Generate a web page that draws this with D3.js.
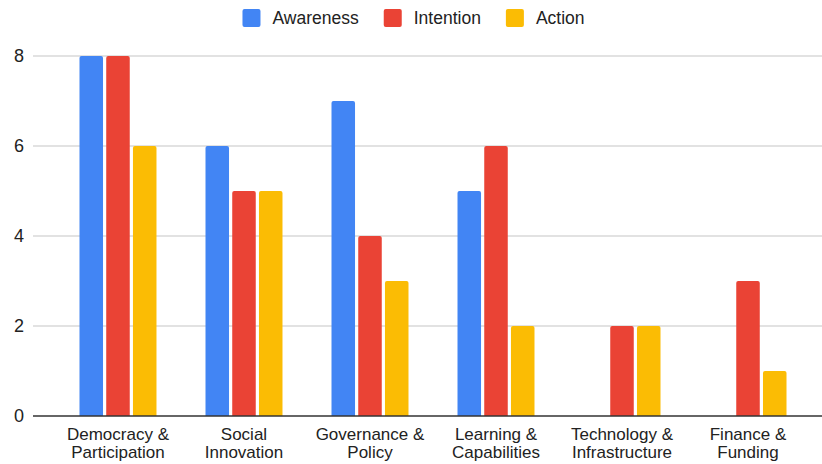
<!DOCTYPE html>
<html>
<head>
<meta charset="utf-8">
<script src="https://cdn.jsdelivr.net/npm/d3@7"></script>
<style>
  html, body { margin: 0; padding: 0; background: #fff; }
  svg { display: block; font-family: "Liberation Sans", Arial, Helvetica, sans-serif; }
</style>
</head>
<body>
<svg id="chart" width="822" height="464"></svg>
<script>
// Themes and their two-line axis labels
const categories = [
  "Democracy & Participation",
  "Social Innovation",
  "Governance & Policy",
  "Learning & Capabilities",
  "Technology & Infrastructure",
  "Finance & Funding"
];
const categoryLines = [
  ["Democracy &", "Participation"],
  ["Social", "Innovation"],
  ["Governance &", "Policy"],
  ["Learning &", "Capabilities"],
  ["Technology &", "Infrastructure"],
  ["Finance &", "Funding"]
];

// Counts per stage
const seriesNames = ["Awareness", "Intention", "Action"];
const awareness = [8, 6, 7, 5, 0, 0];
const intention = [8, 5, 4, 6, 2, 3];
const action    = [6, 5, 3, 2, 2, 1];
const seriesColors = ["#4285F4", "#EA4335", "#FBBC04"];

const yTicks = [0, 2, 4, 6, 8];

const seriesValues = [awareness, intention, action];
const rows = categories.map((c, i) => ({
  category: c,
  values: seriesNames.map((s, j) => ({ series: s, value: seriesValues[j][i], color: seriesColors[j] }))
}));

const svg = d3.select("#chart");

const gridLeft = 33, gridRight = 822;

const x = d3.scaleBand()
  .domain(categories)
  .range([55, 811])
  .paddingInner(0.389)
  .paddingOuter(0.1944);

const xInner = d3.scaleBand()
  .domain(seriesNames)
  .range([0, x.bandwidth()])
  .paddingInner(0.12);

const y = d3.scaleLinear().domain([0, 8]).range([416, 56]);

// Horizontal gridlines
svg.append("g")
  .selectAll("line")
  .data(yTicks.filter(t => t !== 0))
  .join("line")
  .attr("x1", gridLeft).attr("x2", gridRight)
  .attr("y1", d => y(d)).attr("y2", d => y(d))
  .attr("stroke", "#d9d9d9")
  .attr("stroke-width", 1.5);

// Y-axis tick labels
const yAxis = d3.axisLeft(y).tickValues(yTicks).tickSize(0).tickPadding(0);
const yg = svg.append("g").attr("transform", "translate(24,0)").call(yAxis);
yg.select(".domain").remove();
yg.selectAll("text")
  .attr("font-size", 18)
  .attr("fill", "#222")
  .attr("font-family", "'Liberation Sans', Arial, sans-serif");

// Bars with lightly rounded tops
function topRoundedRect(x0, y0, w, h, r) {
  if (h <= 0) return "";
  r = Math.min(r, w / 2, h);
  return `M${x0},${y0 + h}V${y0 + r}Q${x0},${y0} ${x0 + r},${y0}H${x0 + w - r}Q${x0 + w},${y0} ${x0 + w},${y0 + r}V${y0 + h}Z`;
}

const groups = svg.append("g")
  .selectAll("g")
  .data(rows)
  .join("g")
  .attr("transform", d => `translate(${x(d.category)},0)`);

groups.selectAll("path")
  .data(d => d.values.filter(v => v.value > 0))
  .join("path")
  .attr("d", v => topRoundedRect(xInner(v.series), y(v.value), xInner.bandwidth(), y(0) - y(v.value), 2))
  .attr("fill", v => v.color);

// Zero baseline
svg.append("line")
  .attr("x1", gridLeft).attr("x2", gridRight)
  .attr("y1", y(0)).attr("y2", y(0))
  .attr("stroke", "#333")
  .attr("stroke-width", 1.5);

// X-axis category labels
const xl = svg.append("g")
  .selectAll("text")
  .data(categories)
  .join("text")
  .attr("text-anchor", "middle")
  .attr("font-size", 17)
  .attr("fill", "#222")
  .attr("x", d => x(d) + x.bandwidth() / 2)
  .attr("y", 440);
xl.each(function(d, i) {
  const t = d3.select(this);
  categoryLines[i].forEach((line, k) => {
    t.append("tspan")
      .attr("x", x(d) + x.bandwidth() / 2)
      .attr("dy", k === 0 ? 0 : 18)
      .text(line);
  });
});

// Legend, centred above the plot
const legend = svg.append("g");
let cursor = 0;
seriesNames.forEach((name, i) => {
  const item = legend.append("g").attr("transform", `translate(${cursor},0)`);
  item.append("rect")
    .attr("x", 0).attr("y", 9)
    .attr("width", 18).attr("height", 18)
    .attr("rx", 2)
    .attr("fill", seriesColors[i]);
  const label = item.append("text")
    .attr("x", 30).attr("y", 24)
    .attr("font-size", 17.5)
    .attr("fill", "#222")
    .text(name);
  const w = label.node().getComputedTextLength();
  cursor += 30 + w + 25;
});
const legendWidth = cursor - 25;
legend.attr("transform", `translate(${413.5 - legendWidth / 2},0)`);
</script>
</body>
</html>
